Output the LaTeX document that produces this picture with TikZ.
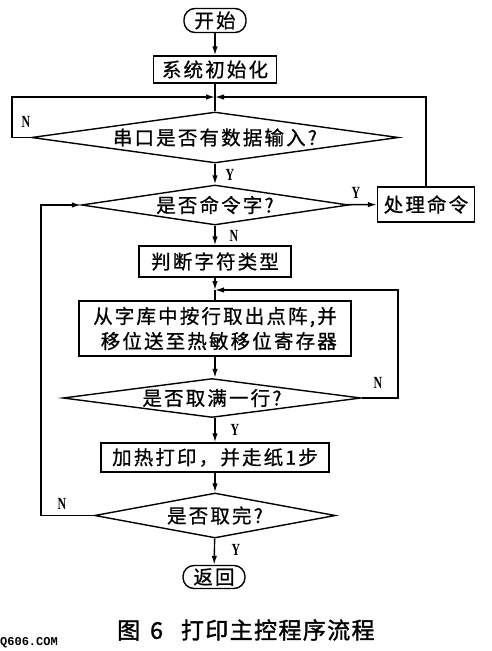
\documentclass[tikz,border=0pt]{standalone}
\usepackage{fontspec}
\usetikzlibrary{shapes.geometric,arrows.meta}
\newfontfamily\cjk[LetterSpace=11,FakeBold=0.8]{Noto Sans CJK SC}
\newfontfamily\cjkcap[LetterSpace=6,FakeBold=1.5]{Noto Sans CJK SC}
\newfontfamily\labfont{Liberation Serif}
\newfontfamily\wmfont{Liberation Mono}
\newcommand{\yn}[1]{\scalebox{0.7}[1]{#1}}
\begin{document}
\begin{tikzpicture}[x=1pt,y=-1pt,
  box/.style={draw, line width=1.4pt, inner sep=0pt, font={\cjk\fontsize{19.5}{25}\selectfont}},
  term/.style={box, rounded corners=11pt},
  dec/.style={box, diamond, aspect=8},
  lab/.style={inner sep=0pt, font={\labfont\bfseries\fontsize{17}{17}\selectfont}},
  arr/.style={-{Latex[length=9pt,width=5.5pt]}, line width=1.4pt},
  ln/.style={line width=1.4pt}]
\useasboundingbox (0,0) rectangle (491,651);

\node[term, minimum width=62, minimum height=24] (start) at (215,20.5) {开始};
\node[box, minimum width=123, minimum height=27] (init) at (215,69.5) {系统初始化};
\coordinate (m1) at (215,97);
\node[dec, minimum width=367, minimum height=51] (d1) at (215,137.5) {串口是否有数据输入?};
\node[dec, minimum width=267, minimum height=40] (d2) at (215,205) {是否命令字?};
\node[box, minimum width=97, minimum height=35] (cmd) at (426,204.5) {处理命令};
\node[box, minimum width=152, minimum height=31] (type) at (215,261.5) {判断字符类型};
\coordinate (m2) at (215,290);
\node[box, minimum width=272, minimum height=55, align=right] (fetch) at (215,328.5) {从字库中按行取出点阵,并\\移位送至热敏移位寄存器};
\node[dec, minimum width=298, minimum height=39] (d3) at (212,398) {是否取满一行?};
\node[box, minimum width=228, minimum height=29] (heat) at (215,457.5) {加热打印，并走纸1步};
\node[dec, minimum width=222, minimum height=45] (d4) at (215,515.5) {是否取完?};
\node[term, minimum width=62, minimum height=23] (end) at (214,577) {返回};

\coordinate (lx) at (12,0);
\coordinate (loopx) at (41,0);
\coordinate (rx) at (398,0);

% connectors
\draw[arr] (start) -- (init);
\draw[ln] (init) -- (d1);
\draw[arr] (d1.west) -- (d1.west -| lx) |- (m1);
\draw[arr] (cmd.north) |- (m1);
\draw[arr] (d1) -- (d2);
\draw[arr] (d2) -- (cmd);
\draw[arr] (d2) -- (type);
\draw[arr] (type) -- (m2);
\draw[ln] (m2) -- (fetch);
\draw[arr] (fetch.south) -- (fetch.south |- d3.north);
\draw[arr] (d3.east) -- (d3.east -| rx) |- (m2);
\draw[arr] (d3.south -| heat.north) -- (heat);
\draw[arr] (heat) -- (d4);
\draw[arr] (d4.west) -- (d4.west -| loopx) |- (d2.west);
\draw[arr] (d4) -- (end);

% labels
\node[lab] (n1) at (26,122) {\yn{N}};
\node[lab] (y1) at (230,175) {\yn{Y}};
\node[lab] (y2) at (356,193) {\yn{Y}};
\node[lab] (n2) at (234,236) {\yn{N}};
\node[lab] (n3) at (378,383) {\yn{N}};
\node[lab] (y3) at (235,430) {\yn{Y}};
\node[lab] (n4) at (62,504) {\yn{N}};
\node[lab] (y4) at (236,550) {\yn{Y}};

\node[anchor=west, inner sep=0pt, font={\cjkcap\fontsize{23}{23}\selectfont}] (cap) at (117,630) {图\hspace{10pt}6\hspace{18pt}打印主控程序流程};
\node[anchor=west, inner sep=0pt, font={\wmfont\bfseries\fontsize{12}{12}\selectfont}] (wm) at (0,643) {Q606.COM};
\end{tikzpicture}
\end{document}
